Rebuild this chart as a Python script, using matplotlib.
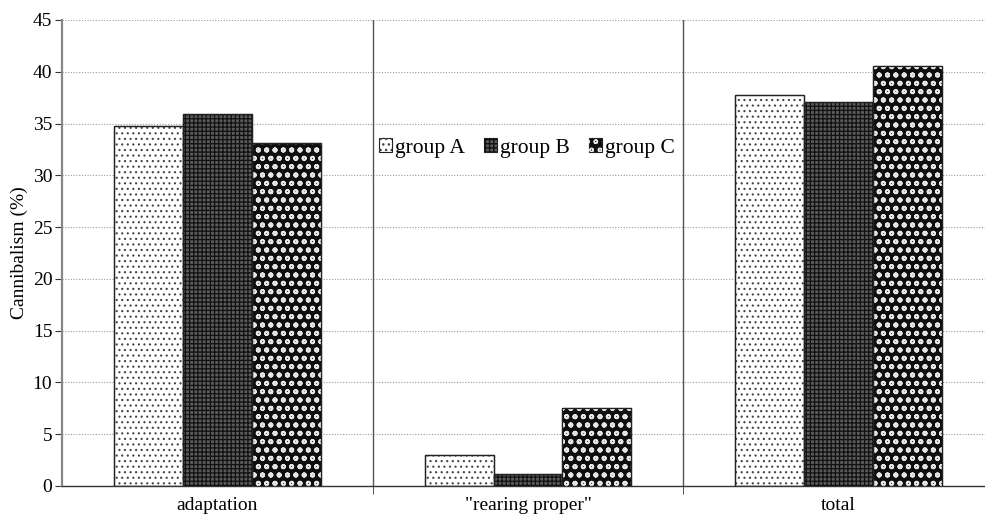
import matplotlib as mpl

mpl.use("Agg")
import matplotlib.pyplot as plt
import numpy as np
from matplotlib.patches import Patch

categories = ["adaptation", '"rearing proper"', "total"]
groups = ["group A", "group B", "group C"]
group_a = [34.8, 3.0, 37.8]
group_b = [35.9, 1.2, 37.1]
group_c = [33.1, 7.5, 40.6]
y_ticks = [0, 5, 10, 15, 20, 25, 30, 35, 40, 45]

# face colour, hatch colour, hatch pattern, hatch line width per group
STYLES = [
    ("white", "#444444", "...", 0.8),
    ("#5a5a5a", "#111111", "++++", 0.9),
    ("#0e0e0e", "#e6e6e6", "oo", 1.3),
]

plt.rcParams.update({
    "font.family": ["Liberation Serif", "DejaVu Serif"],
    "font.size": 14,
})

fig = plt.figure(figsize=(9.85, 5.22), dpi=100)
ax = fig.add_axes([62 / 985, 1 - 486 / 522, 932 / 985, 466 / 522])

x = np.arange(len(categories))
width = 0.222
handles = []
for i, (vals, (face, hcol, hatch, hlw)) in enumerate(zip([group_a, group_b, group_c], STYLES)):
    pos = x + (i - 1) * width
    with plt.rc_context({"hatch.linewidth": hlw}):
        ax.bar(pos, vals, width, color=face, edgecolor="#222222", linewidth=0.9, zorder=2)
        ax.bar(pos, vals, width, color="none", edgecolor=hcol, hatch=hatch, linewidth=0, zorder=3)
        ax.bar(pos, vals, width, color="none", edgecolor="#222222", linewidth=0.9, zorder=4)
        base = Patch(facecolor=face, edgecolor="#222222", linewidth=0.8)
        over = Patch(facecolor="none", edgecolor=hcol, hatch=hatch, linewidth=0)
    handles.append((base, over))

ax.set_xlim(-0.5, 2.5)
ax.set_ylim(0, 45)
ax.set_yticks(y_ticks)
ax.yaxis.grid(True, linestyle=(0, (1, 1.5)), color="#999999", linewidth=0.8)
ax.set_axisbelow(True)

for b in [0.5, 1.5]:
    ax.axvline(b, color="#555555", linewidth=1.0, zorder=1)

ax.set_xticks(x)
ax.set_xticklabels(categories)
ax.tick_params(axis="x", length=0, pad=8)
ax.set_xticks([0.5, 1.5], minor=True)
ax.tick_params(axis="x", which="minor", length=6, color="#333333")
ax.tick_params(axis="y", length=5, color="#333333", pad=2)

for s in ["top", "right"]:
    ax.spines[s].set_visible(False)
ax.spines["left"].set_color("#888888")
ax.spines["left"].set_linewidth(1.6)
ax.spines["bottom"].set_color("#333333")
ax.spines["bottom"].set_linewidth(1.0)

ax.set_ylabel("Cannibalism (%)", labelpad=3)

fig.legend(handles, groups, loc="center", bbox_to_anchor=(527 / 985, 1 - 148 / 522),
           ncol=3, frameon=False, handlelength=0.6, handleheight=0.6,
           handletextpad=0.15, columnspacing=0.9, fontsize=15.5)

fig.savefig("out.png", dpi=100)
